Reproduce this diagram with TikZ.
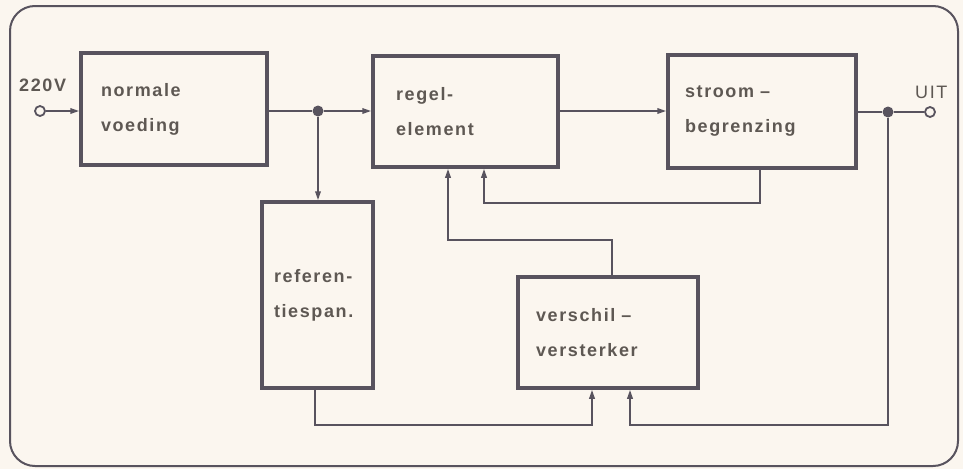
\documentclass[tikz,border=0pt]{standalone}
\usepackage{fontspec}
\setmainfont{Liberation Sans}[LetterSpace=9]
\usetikzlibrary{arrows.meta}
\definecolor{bg}{HTML}{FBF6EF}
\definecolor{ln}{HTML}{58535E}
\definecolor{tx}{HTML}{5E5853}
\begin{document}
\begin{tikzpicture}[x=1pt,y=-1pt,
  blk/.style={draw=ln, line width=3.5pt, align=left, inner ysep=0pt,
    font=\fontsize{18}{35}\selectfont\bfseries, text=tx},
  lbl/.style={font=\fontsize{18}{22}\selectfont, text=tx, inner sep=0pt},
  con/.style={draw=ln, line width=1.8pt},
  arr/.style={con, -{Triangle[length=9pt,width=5.5pt]}},
  term/.style={circle, draw=ln, line width=1.8pt, fill=bg, minimum size=10pt, inner sep=0pt},
  dot/.style={circle, fill=ln, minimum size=11pt, inner sep=0pt}]
\useasboundingbox (0,0) rectangle (963,469);
\fill[bg] (0,0) rectangle (963,469);
\draw[ln, line width=2pt, rounded corners=25pt] (10,6) rectangle (958,466);

\node[blk, minimum width=186pt, minimum height=112pt, inner xsep=20pt, text width=146pt] (nv) at (174,109) {normale\\voeding};
\node[blk, minimum width=185pt, minimum height=111pt, inner xsep=23pt, text width=139pt] (re) at (465.5,111.5) {regel-\\element};
\node[blk, minimum width=188pt, minimum height=113pt, inner xsep=17pt, text width=154pt] (sb) at (762,111.5) {stroom –\\begrenzing};
\node[blk, minimum width=111pt, minimum height=186pt, inner xsep=12pt, text width=87pt] (rs) at (317.5,295) {referen-\\tiespan.};
\node[blk, minimum width=180pt, minimum height=111pt, inner xsep=18pt, text width=144pt] (vv) at (608,332.5) {verschil –\\versterker};

\node[lbl, anchor=west, font=\fontsize{18}{22}\selectfont\bfseries] (vin) at (19,85) {220V};
\node[lbl, anchor=west] (vout) at (915,92) {UIT};

\node[term] (in) at (40,111) {};
\node[term] (out) at (930,112) {};
\node[dot] (j1) at (318,111) {};
\node[dot] (j2) at (888,112) {};

\coordinate (a1) at (760,203);
\coordinate (a2) at (484,203);
\coordinate (b1) at (612,240);
\coordinate (b2) at (448,240);
\coordinate (c1) at (315,425);
\coordinate (c2) at (592,425);
\coordinate (d2) at (630,425);

\draw[arr] (in) -- (in -| nv.west);
\draw[con] (nv.east |- j1) -- (j1);
\draw[arr] (j1) -- (j1 -| re.west);
\draw[arr] (j1) -- (j1 |- rs.north);
\draw[arr] (re.east |- j1) -- (j1 -| sb.west);
\draw[con] (sb.east |- j2) -- (j2) -- (out);
\draw[arr] (a1 |- sb.south) -- (a1) -- (a2) -- (a2 |- re.south);
\draw[arr] (b1 |- vv.north) -- (b1) -- (b2) -- (b2 |- re.south);
\draw[arr] (c1 |- rs.south) -- (c1) -- (c2) -- (c2 |- vv.south);
\draw[arr] (j2) -- (j2 |- d2) -- (d2) -- (d2 |- vv.south);
\end{tikzpicture}
\end{document}
